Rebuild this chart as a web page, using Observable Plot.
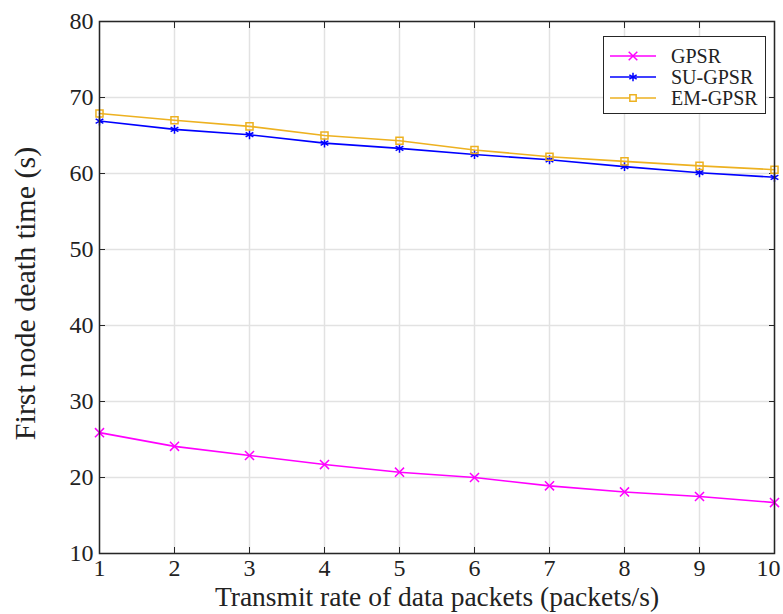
<!DOCTYPE html>
<html><head><meta charset="utf-8">
<script src="https://cdn.jsdelivr.net/npm/d3@7"></script>
<script src="https://cdn.jsdelivr.net/npm/@observablehq/plot@0.6"></script>
<style>
body{margin:0;background:#fff;}
#wrap{position:relative;width:783px;height:614px;font-family:"Liberation Serif",serif;overflow:hidden;}
#wrap svg{overflow:visible;}
#legend{position:absolute;left:603px;top:36px;width:161px;height:76px;border:1.5px solid #262626;background:#fff;}
</style></head>
<body><div id="wrap"></div>
<script>
const rates = [1,2,3,4,5,6,7,8,9,10];
const gpsr   = [25.9,24.1,22.9,21.7,20.7,20.0,18.9,18.1,17.5,16.7];
const suGpsr = [66.9,65.8,65.1,64.0,63.3,62.5,61.8,60.9,60.1,59.5];
const emGpsr = [67.9,67.0,66.2,65.0,64.3,63.1,62.2,61.6,61.0,60.5];
const seriesNames = ["GPSR","SU-GPSR","EM-GPSR"];
const seriesColors = ["#FF00FF","#0000FF","#EDB120"];
const seriesSymbols = ["times","asterisk","square"];
const xTicks = [1,2,3,4,5,6,7,8,9,10];
const yTicks = [10,20,30,40,50,60,70,80];
const xLabel = "Transmit rate of data packets (packets/s)";
const yLabel = "First node death time (s)";

const seriesValues = [gpsr, suGpsr, emGpsr];
const data = [];
seriesNames.forEach((name, i) => rates.forEach((r, j) => data.push({series: name, x: r, y: seriesValues[i][j]})));

const font = "Liberation Serif";
const gridColor = "#e2e2e2";
const axisColor = "#262626";

const marks = [
  Plot.ruleX(xTicks, {stroke: gridColor, strokeWidth: 1.5}),
  Plot.ruleY(yTicks, {stroke: gridColor, strokeWidth: 1.5}),
  Plot.axisX(xTicks.slice(0, -1), {tickSize: 0, tickPadding: 5, fontSize: 24, label: null, color: "#222"}),
  Plot.axisX(xTicks.slice(-1), {tickSize: 0, tickPadding: 5, fontSize: 24, label: null, color: "#222", dx: -6}),
  Plot.axisY(yTicks, {tickSize: 0, tickPadding: 6, fontSize: 24, label: null, color: "#222"}),
  Plot.axisX(xTicks, {anchor: "bottom", tickSize: -6, text: null, label: null, stroke: axisColor}),
  Plot.axisX(xTicks, {anchor: "top", tickSize: -6, text: null, label: null, stroke: axisColor}),
  Plot.axisY(yTicks, {anchor: "left", tickSize: -6, text: null, label: null, stroke: axisColor}),
  Plot.axisY(yTicks, {anchor: "right", tickSize: -6, text: null, label: null, stroke: axisColor}),
];
seriesNames.forEach((name, i) => {
  const d = data.filter(p => p.series === name);
  marks.push(Plot.line(d, {x: "x", y: "y", stroke: seriesColors[i], strokeWidth: 1.6}));
  marks.push(Plot.dot(d, {x: "x", y: "y", stroke: seriesColors[i], symbol: seriesSymbols[i], r: i === 2 ? 4 : 4.2, strokeWidth: 1.5, fill: "none"}));
});
marks.push(Plot.frame({stroke: axisColor, strokeWidth: 1.5}));
marks.push(Plot.text([yLabel], {frameAnchor: "left", textAnchor: "middle", lineAnchor: "middle", dx: -74, dy: 6, rotate: -90, fontSize: 30, fill: "#222", text: d => d}));
marks.push(Plot.text([xLabel], {frameAnchor: "bottom", textAnchor: "middle", lineAnchor: "middle", dy: 44, fontSize: 27.5, fill: "#222", text: d => d}));

const chart = Plot.plot({
  width: 783, height: 614,
  marginLeft: 99, marginRight: 9, marginTop: 21, marginBottom: 61,
  style: {fontFamily: font, background: "#fff", overflow: "visible"},
  x: {domain: [1, 10]},
  y: {domain: [10, 80]},
  marks
});
const wrap = document.getElementById("wrap");
wrap.appendChild(chart);

// legend
const legend = d3.select(wrap).append("div").attr("id", "legend");
const lsvg = legend.append("svg").attr("width", 161).attr("height", 76);
const symMap = {times: d3.symbolTimes, asterisk: d3.symbolAsterisk, square: d3.symbolSquare};
seriesNames.forEach((name, i) => {
  const cy = 19 + i * 21;
  const g = lsvg.append("g");
  g.append("line").attr("x1", 6).attr("x2", 52).attr("y1", cy).attr("y2", cy).attr("stroke", seriesColors[i]).attr("stroke-width", 1.5);
  g.append("path").attr("transform", `translate(29,${cy})`)
    .attr("d", d3.symbol(symMap[seriesSymbols[i]], i === 2 ? 40 : 50)())
    .attr("stroke", seriesColors[i]).attr("fill", i === 2 ? "#fff" : "none").attr("stroke-width", 1.5);
  g.append("text").attr("x", 67).attr("y", cy).attr("dy", "0.35em")
    .attr("font-family", font).attr("font-size", 20).attr("fill", "#222").text(name);
});
</script></body></html>
